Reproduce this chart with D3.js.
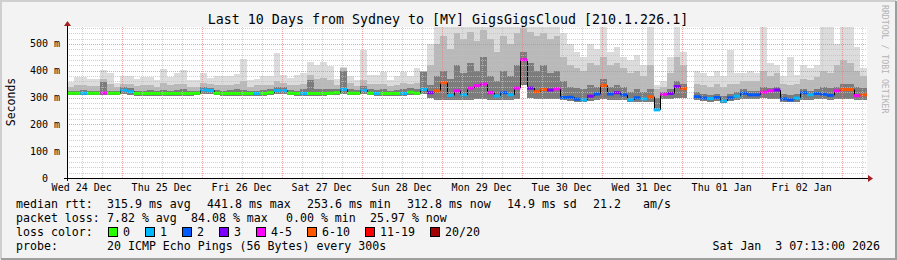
<!DOCTYPE html>
<html>
<head>
<meta charset="utf-8">
<script src="https://cdn.jsdelivr.net/npm/d3@7"></script>
<style>
  body { margin: 0; background: #f3f3f3; }
  svg { display: block; font-family: "DejaVu Sans Mono", monospace; }
</style>
</head>
<body>
<svg id="chart" width="897" height="260"></svg>
<script>
// Text
const title = "Last 10 Days from Sydney to [MY] GigsGigsCloud [210.1.226.1]";
const yTitle = "Seconds";
const watermark = "RRDTOOL / TOBI OETIKER";

// Time span: 120 columns of 2 hours each
const startTime = new Date(2025, 11, 24, 7, 35);
const endTime = new Date(2026, 0, 3, 7, 35);
const stepHours = 2;

// median rtt per column (ms)
const median = [
  316,316,316,316,316,317,316,316,327,322, 315,315,315,315,315,315,315,315,315,316,
  328,326,316,315,315,315,315,315,315,315, 318,326,326,316,315,315,315,315,315,316,
  318,330,316,316,327,316,315,315,315,315, 315,320,316,330,318,325,355,308,325,310,
  335,344,350,318,306,318,310,335,441,335, 322,330,328,332,300,301,294,291,305,313,
  345,313,318,310,291,299,295,303,254,312, 315,341,333,null,303,298,296,300,287,299,
  305,316,310,310,320,325,328,295,291,298, 318,310,315,312,308,325,330,330,307,310
];
// lost pings per column, as index into lossLabels
const lossClass = [
  0,0,1,0,0,4,0,0,1,1, 0,0,0,0,0,0,0,0,0,0,
  1,1,0,0,0,0,0,0,1,0, 0,1,1,0,0,1,0,0,0,0,
  0,1,0,0,1,0,1,0,0,0, 1,0,0,1,3,5,5,1,4,1,
  4,4,4,4,1,2,1,4,4,3, 5,5,3,4,2,2,2,1,3,2,
  5,2,3,2,1,2,1,5,1,4, 3,3,5,0,2,2,1,2,1,2,
  1,2,2,2,4,4,3,2,2,1, 2,1,2,2,2,4,5,5,4,5
];
// smoke: lowest ping, upper edge of dense part, 90th pct, highest ping (ms)
const smokeLow = [
  308,308,308,308,308,308,308,308,312,310, 307,307,307,307,307,307,307,307,307,308,
  312,312,308,307,307,307,307,307,307,307, 308,312,312,308,307,307,307,307,307,308,
  308,314,308,308,312,308,307,307,307,307, 307,308,308,312,300,290,290,292,292,290,
  292,295,295,292,290,292,292,295,345,300, 295,295,295,295,290,288,285,285,288,290,
  295,290,290,290,283,285,282,285,248,295, 295,300,300,null,290,288,285,288,280,288,
  290,295,295,295,298,295,295,285,282,285, 290,290,295,295,292,295,295,295,292,292
];
const smokeDense = [
  326,325,327,325,326,358,326,324,338,335, 325,326,327,325,328,326,327,330,325,326,
  340,336,327,326,328,330,329,326,326,327, 330,340,338,328,326,330,366,332,333,330,
  330,400,330,328,342,330,328,330,326,327, 332,335,330,396,345,380,400,370,420,390,
  430,400,450,380,360,400,380,420,470,430, 400,420,390,400,360,340,335,330,345,340,
  370,340,345,340,320,330,320,330,300,320, 330,360,350,null,320,315,310,315,305,315,
  320,330,325,325,340,335,340,315,310,315, 330,325,330,340,335,340,350,350,340,335
];
const smokeP90 = [
  340,345,345,342,342,370,350,338,352,350, 342,345,348,340,355,345,350,352,340,340,
  355,350,345,345,348,350,360,340,345,345, 345,360,355,348,345,352,385,370,372,365,
  345,410,355,342,365,350,350,352,342,345, 355,350,355,400,420,500,530,480,540,520,
  545,510,550,520,470,530,500,540,560,545, 530,540,520,530,450,420,410,400,430,420,
  450,420,430,410,390,400,380,420,330,340, 390,450,420,null,350,345,340,350,340,350,
  350,360,360,360,400,380,390,350,345,350, 370,365,375,400,390,420,440,430,400,380
];
const smokeHigh = [
  359,376,376,369,369,403,393,356,381,381, 369,376,376,366,406,376,390,403,366,366,
  393,373,380,380,380,386,443,366,370,380, 380,467,384,373,384,393,434,422,434,418,
  369,412,380,366,478,384,384,396,366,380, 396,380,410,384,500,565,565,565,565,565,
  565,565,565,565,565,565,565,565,565,565, 565,565,565,565,540,500,470,450,500,480,
  565,470,490,450,440,460,420,565,345,360, 450,565,470,null,400,390,380,400,380,478,
  390,390,400,390,565,430,420,380,452,385, 420,410,420,565,565,500,565,565,490,410
];

// Loss legend
const lossLabels = ["0", "1", "2", "3", "4-5", "6-10", "11-19", "20/20"];
const lossColors = ["#26ff00", "#00b8ff", "#0059ff", "#7e00ff", "#ff00ff", "#ff5500", "#ff0000", "#a10000"];

// Statistics lines
const rttStats = ["315.9 ms avg", "441.8 ms max", "253.6 ms min", "312.8 ms now", "14.9 ms sd", "21.2", "am/s"];
const lossStats = ["7.82 % avg", "84.08 % max", "0.00 % min", "25.97 % now"];
const probeText = "20 ICMP Echo Pings (56 Bytes) every 300s";
const stampText = "Sat Jan  3 07:13:00 2026";

const yTicks = [0, 100, 200, 300, 400, 500];

// Layout
const svg = d3.select("#chart");
const W = 897, H = 260;
const plot = { left: 67, right: 867, top: 27, bottom: 178 };

const x = d3.scaleTime().domain([startTime, endTime]).range([plot.left, plot.right]);
const y = d3.scaleLinear().domain([0, 563]).range([plot.bottom, plot.top]);

// Background and 3D frame
svg.append("rect").attr("width", W).attr("height", H).attr("fill", "#f3f3f3");
svg.append("path").attr("d", `M1,${H - 1}V1H${W - 1}`).attr("fill", "none").attr("stroke", "#cfcfcf").attr("stroke-width", 2);
svg.append("path").attr("d", `M1,${H - 1}H${W - 1}V1`).attr("fill", "none").attr("stroke", "#9e9e9e").attr("stroke-width", 2);

// Canvas
svg.append("rect")
  .attr("x", plot.left).attr("y", plot.top)
  .attr("width", plot.right - plot.left).attr("height", plot.bottom - plot.top)
  .attr("fill", "#ffffff");

svg.append("clipPath").attr("id", "clip")
  .append("rect")
  .attr("x", plot.left).attr("y", plot.top)
  .attr("width", plot.right - plot.left).attr("height", plot.bottom - plot.top);

const cols = median.map((m, i) => ({
  t0: d3.timeHour.offset(startTime, i * stepHours),
  t1: d3.timeHour.offset(startTime, (i + 1) * stepHours),
  med: m,
  loss: lossClass[i],
  lo: smokeLow[i],
  dense: smokeDense[i],
  p90: smokeP90[i],
  hi: smokeHigh[i],
}));
const valid = cols.filter((d) => d.med != null);

const g = svg.append("g").attr("clip-path", "url(#clip)");

// Smoke layers, lightest first
const layers = [
  { key: "hi", color: "#dcdcdc" },
  { key: "p90", color: "#b9b9b9" },
  { key: "dense", color: "#7c7c7c" },
];
layers.forEach((layer) => {
  g.append("g")
    .selectAll("rect")
    .data(valid)
    .join("rect")
    .attr("x", (d) => x(d.t0))
    .attr("width", (d) => x(d.t1) - x(d.t0))
    .attr("y", (d) => y(d[layer.key]))
    .attr("height", (d) => y(d.lo) - y(d[layer.key]))
    .attr("fill", layer.color)
    .attr("shape-rendering", "crispEdges");
});

// Grid (drawn over the smoke, like rrdtool)
const grid = svg.append("g").attr("shape-rendering", "crispEdges");
const minorY = d3.range(20, 563, 20).filter((v) => v % 100 !== 0);
const majorY = d3.range(100, 563, 100);
const minorX = d3.timeHour.every(6).range(startTime, endTime).filter((t) => t.getHours() !== 0);
const majorX = d3.timeDay.range(startTime, endTime);

grid.selectAll(".minY").data(minorY).join("line")
  .attr("x1", plot.left).attr("x2", plot.right)
  .attr("y1", (d) => Math.round(y(d)) + 0.5).attr("y2", (d) => Math.round(y(d)) + 0.5)
  .attr("stroke", "rgba(192,192,192,0.75)").attr("stroke-dasharray", "1,1");
grid.selectAll(".minX").data(minorX).join("line")
  .attr("x1", (d) => Math.round(x(d)) + 0.5).attr("x2", (d) => Math.round(x(d)) + 0.5)
  .attr("y1", plot.top).attr("y2", plot.bottom)
  .attr("stroke", "rgba(192,192,192,0.75)").attr("stroke-dasharray", "1,1");
grid.selectAll(".majY").data(majorY).join("line")
  .attr("x1", plot.left).attr("x2", plot.right)
  .attr("y1", (d) => Math.round(y(d)) + 0.5).attr("y2", (d) => Math.round(y(d)) + 0.5)
  .attr("stroke", "rgba(230,128,128,0.75)").attr("stroke-dasharray", "1,1");
grid.selectAll(".majX").data(majorX).join("line")
  .attr("x1", (d) => Math.round(x(d)) + 0.5).attr("x2", (d) => Math.round(x(d)) + 0.5)
  .attr("y1", plot.top).attr("y2", plot.bottom)
  .attr("stroke", "rgba(230,128,128,0.75)").attr("stroke-dasharray", "1,1");

// Median: black step connectors, then loss-coloured dashes
const steps = [];
for (let i = 1; i < cols.length; i++) {
  if (cols[i].med != null && cols[i - 1].med != null) steps.push([cols[i - 1], cols[i]]);
}
g.append("g").selectAll("line").data(steps).join("line")
  .attr("x1", (d) => Math.round(x(d[1].t0)) + 0.5)
  .attr("x2", (d) => Math.round(x(d[1].t0)) + 0.5)
  .attr("y1", (d) => y(d[0].med))
  .attr("y2", (d) => y(d[1].med))
  .attr("stroke", "#000").attr("stroke-width", 1);

g.append("g").selectAll("line").data(valid).join("line")
  .attr("x1", (d) => x(d.t0))
  .attr("x2", (d) => x(d.t1))
  .attr("y1", (d) => y(d.med))
  .attr("y2", (d) => y(d.med))
  .attr("stroke", (d) => lossColors[d.loss])
  .attr("stroke-width", 3);

// Axes
svg.append("line").attr("x1", plot.left - 3).attr("x2", plot.right + 1)
  .attr("y1", plot.bottom + 0.5).attr("y2", plot.bottom + 0.5).attr("stroke", "#000");
svg.append("line").attr("x1", plot.left + 0.5).attr("x2", plot.left + 0.5)
  .attr("y1", plot.bottom + 3).attr("y2", plot.top - 2).attr("stroke", "#000");
svg.append("path")
  .attr("d", `M${plot.right + 1},${plot.bottom - 3}L${plot.right + 6},${plot.bottom + 0.5}L${plot.right + 1},${plot.bottom + 4}Z`)
  .attr("fill", "#a32020");
svg.append("path")
  .attr("d", `M${plot.left - 3},${plot.top - 1}L${plot.left + 0.5},${plot.top - 6}L${plot.left + 4},${plot.top - 1}Z`)
  .attr("fill", "#a32020");

// Y labels
svg.append("g").selectAll("text").data(yTicks).join("text")
  .attr("x", (d) => (d === 0 ? 48 : 60))
  .attr("y", (d) => y(d))
  .attr("dy", "0.35em")
  .attr("text-anchor", "end")
  .attr("font-size", 10)
  .text((d) => (d === 0 ? "0" : d + " m"));

// X labels at noon of each day
const fmt = d3.timeFormat("%a %d %b");
const noons = majorX.concat([d3.timeDay.floor(startTime)])
  .map((d) => d3.timeHour.offset(d, 12))
  .filter((d) => d > startTime && d < endTime)
  .sort((a, b) => a - b);
svg.append("g").selectAll("text").data(noons).join("text")
  .attr("x", (d) => x(d))
  .attr("y", 187)
  .attr("dy", "0.35em")
  .attr("text-anchor", "middle")
  .attr("font-size", 10)
  .text((d) => fmt(d));

// Title and side texts
svg.append("text").attr("x", 448).attr("y", 19.5).attr("dy", "0.35em")
  .attr("text-anchor", "middle").attr("font-size", 13.3).text(title);
svg.append("text").attr("transform", "translate(11,102) rotate(-90)")
  .attr("dy", "0.35em").attr("text-anchor", "middle").attr("font-size", 11.5).text(yTitle);
svg.append("text").attr("transform", "translate(885,5) rotate(90)")
  .attr("dy", "0.35em").attr("text-anchor", "start").attr("font-size", 8.2)
  .attr("fill", "#b4b4b4").text(watermark);

// Legend rows
const legend = svg.append("g").attr("font-size", 11.6).attr("fill", "#000");
const rowY = [204, 218, 232, 246];
const addText = (txt, tx, ty, anchor) =>
  legend.append("text").attr("x", tx).attr("y", ty).attr("dy", "0.35em")
    .attr("text-anchor", anchor || "start").attr("xml:space", "preserve").text(txt);

addText("median rtt:", 16, rowY[0]);
const rttX = [107, 207, 307, 407, 507, 593, 643];
rttStats.forEach((s, i) => addText(s, rttX[i], rowY[0]));

addText("packet loss:", 16, rowY[1]);
const lossX = [107, 191, 286, 370];
lossStats.forEach((s, i) => addText(s, lossX[i], rowY[1]));

addText("loss color:", 16, rowY[2]);
const boxX = [108, 145, 182, 219, 256, 307, 365, 430];
lossLabels.forEach((lab, i) => {
  legend.append("rect")
    .attr("x", boxX[i] + 0.5).attr("y", rowY[2] - 4.5)
    .attr("width", 9).attr("height", 9)
    .attr("fill", lossColors[i]).attr("stroke", "#000");
  addText(lab, boxX[i] + 15, rowY[2]);
});

addText("probe:", 16, rowY[3]);
addText(probeText, 107, rowY[3]);
addText(stampText, 880, rowY[3], "end");
</script>
</body>
</html>
